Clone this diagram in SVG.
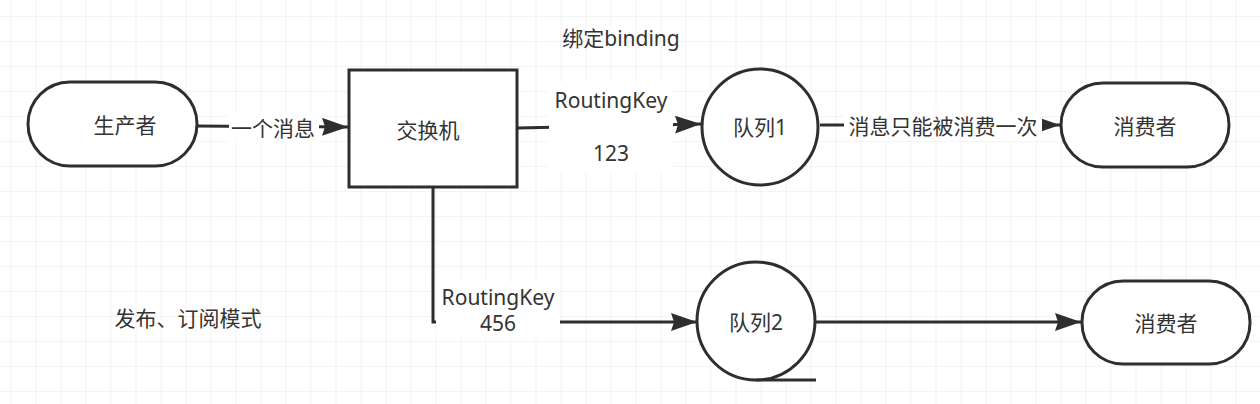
<svg xmlns="http://www.w3.org/2000/svg" width="1260" height="404" viewBox="0 0 1260 404">
<style>
.node{fill:#fff;stroke:#2e2e2e;stroke-width:3}
.t{font-family:"Noto Sans","Noto Sans CJK SC",sans-serif;font-size:21px;fill:#333;text-anchor:middle;dominant-baseline:central}
.edge{fill:none;stroke:#2e2e2e;stroke-width:3}
.lbg{fill:#fff}
</style>
<defs>
<pattern id="grid" x="10.5" y="16" width="25" height="25" patternUnits="userSpaceOnUse">
<path d="M25 0H0V25" fill="none" stroke="#e9e9e9" stroke-width="1.2"/>
</pattern>
<marker id="arr" viewBox="0 0 26 18" refX="26" refY="9" markerWidth="26" markerHeight="18" markerUnits="userSpaceOnUse" orient="auto">
<path d="M0 0L26 9L0 18L3 9Z" fill="#2e2e2e"/>
</marker>
</defs>
<rect width="1260" height="404" fill="#fff"/>
<rect width="1260" height="404" fill="url(#grid)"/>

<g id="connectors">
<line class="edge" x1="198" y1="126" x2="348" y2="127" marker-end="url(#arr)"/>
<rect class="lbg" x="229" y="112" width="90" height="30"/>
<text class="t" x="273" y="128">一个消息</text>

<line class="edge" x1="518" y1="128" x2="701" y2="124" marker-end="url(#arr)"/>
<rect class="lbg" x="549" y="82" width="124" height="90"/>
<text class="t" x="611" y="100">RoutingKey</text>
<text class="t" x="611" y="153">123</text>

<line class="edge" x1="820" y1="125" x2="1060" y2="125" marker-end="url(#arr)"/>
<rect class="lbg" x="844" y="111" width="198" height="30"/>
<text class="t" x="943" y="126">消息只能被消费一次</text>

<path class="edge" d="M433 187V322H697" marker-end="url(#arr)"/>
<rect class="lbg" x="436" y="282" width="124" height="56"/>
<text class="t" x="498" y="297">RoutingKey</text>
<text class="t" x="498" y="323">456</text>

<line class="edge" x1="815" y1="322" x2="1081" y2="322" marker-end="url(#arr)"/>
</g>

<g id="producer">
<rect class="node" x="28" y="82" width="169" height="84" rx="42"/>
<text class="t" x="125" y="125">生产者</text>
</g>
<g id="exchange">
<rect class="node" x="349" y="70" width="168" height="117"/>
<text class="t" x="428" y="130">交换机</text>
</g>
<g id="queue1">
<circle class="node" cx="760" cy="127" r="58"/>
<text class="t" x="760" y="127">队列1</text>
</g>
<g id="consumer1">
<rect class="node" x="1061" y="83" width="168" height="84" rx="42"/>
<text class="t" x="1145" y="126">消费者</text>
</g>
<g id="queue2">
<circle class="node" cx="756" cy="321" r="59"/>
<line class="edge" x1="756" y1="380" x2="816" y2="380"/>
<text class="t" x="756" y="322">队列2</text>
</g>
<g id="consumer2">
<rect class="node" x="1082" y="281" width="168" height="83" rx="41"/>
<text class="t" x="1166" y="323">消费者</text>
</g>
<g id="binding-label">
<text class="t" x="621" y="38">绑定binding</text>
</g>
<g id="mode-label">
<text class="t" x="188" y="318">发布、订阅模式</text>
</g>
</svg>
